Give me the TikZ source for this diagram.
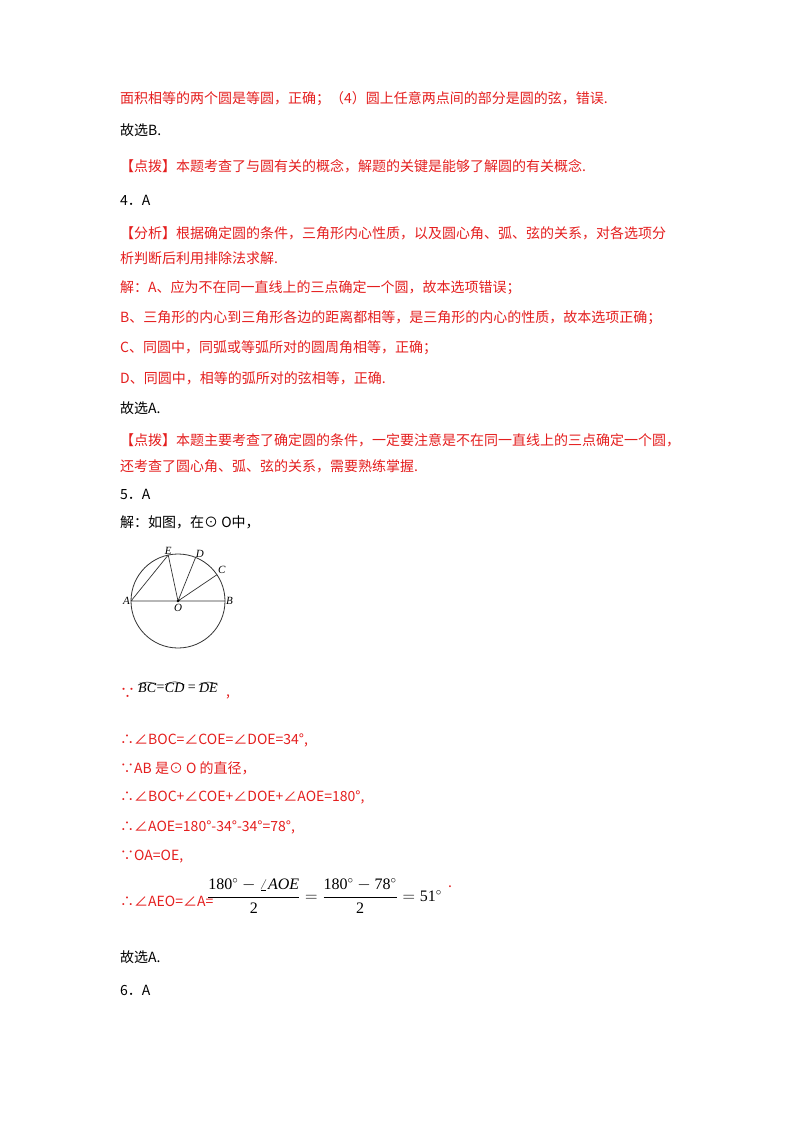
\documentclass[tikz,border=0pt]{standalone}
\usepackage{amsmath}
\usepackage{fontspec}
\usetikzlibrary{calc}
\setmainfont{Liberation Serif}
\newfontfamily\cjk{Noto Sans CJK SC}
\definecolor{rd}{RGB}{228,30,30}
\begin{document}
\begin{tikzpicture}[x=1pt,y=-1pt,
  ln/.style={anchor=west,inner sep=0pt,font=\fontsize{14}{16}\selectfont\cjk},
  rl/.style={ln,text=rd},
  lab/.style={font=\fontsize{11}{12}\selectfont\itshape,inner sep=1pt},
  mt/.style={anchor=west,inner sep=0pt,font=\fontsize{16}{18}\selectfont},
  arcw/.style={line width=0.5pt}]
\useasboundingbox (0,0) rectangle (800,1132);
\node[rl] (l1) at (120,99) {面积相等的两个圆是等圆，正确；（4）圆上任意两点间的部分是圆的弦，错误.};
\node[ln] (l2) at (120,130) {故选B.};
\node[rl] (l3) at (120,166) {【点拨】本题考查了与圆有关的概念，解题的关键是能够了解圆的有关概念.};
\node[ln] (l4) at (120,200) {4．A};
\node[rl] (l5) at (120,233) {【分析】根据确定圆的条件，三角形内心性质，以及圆心角、弧、弦的关系，对各选项分};
\node[rl] (l6) at (120,258) {析判断后利用排除法求解.};
\node[rl] (l7) at (120,288) {解：A、应为不在同一直线上的三点确定一个圆，故本选项错误；};
\node[rl] (l8) at (120,318) {B、三角形的内心到三角形各边的距离都相等，是三角形的内心的性质，故本选项正确；};
\node[rl] (l9) at (120,348) {C、同圆中，同弧或等弧所对的圆周角相等，正确；};
\node[rl] (l10) at (120,378) {D、同圆中，相等的弧所对的弦相等，正确.};
\node[ln] (l11) at (120,408) {故选A.};
\node[rl] (l12) at (120,440) {【点拨】本题主要考查了确定圆的条件，一定要注意是不在同一直线上的三点确定一个圆，};
\node[rl] (l13) at (120,466) {还考查了圆心角、弧、弦的关系，需要熟练掌握.};
\node[ln] (l14) at (120,494) {5．A};
\node[ln] (l15) at (120,522) {解：如图，在⊙ O中，};
% circle diagram
\coordinate (O) at (178,601);
\draw[line width=0.8pt,black!80] (O) circle (47);
\coordinate (A) at ($(O)+(180:47)$);
\coordinate (B) at ($(O)+(0:47)$);
\coordinate (C) at ($(O)+(-34:47)$);
\coordinate (D) at ($(O)+(-68:47)$);
\coordinate (E) at ($(O)+(-102:47)$);
\draw[line width=0.7pt,black!80] (A) -- (B) (O) -- (C) (O) -- (D) (O) -- (E) (A) -- (E);
\fill (O) circle (1.3);
\node[lab,anchor=east] (lA) at (A) {A};
\node[lab,anchor=west] (lB) at (B) {B};
\node[lab,anchor=south west] (lC) at (C) {C};
\node[lab,anchor=south west,inner sep=0pt] (lD) at (D) {D};
\node[lab,anchor=south,inner sep=0pt] (lE) at (E) {E};
\node[lab,anchor=north] (lO) at ($(O)+(0,2)$) {O};
% arcs formula
\node[ln,text=rd] (th1) at (120,693) {\fontsize{15}{15}\selectfont ∵};
\node[mt,font=\fontsize{14}{16}\selectfont] (bc) at (138,688) {\textit{BC}};
\node[mt,font=\fontsize{14}{16}\selectfont] (eq1) at (bc.east) {=};
\node[mt,font=\fontsize{14}{16}\selectfont] (cd) at (eq1.east) {\textit{CD}};
\node[mt,font=\fontsize{14}{16}\selectfont] (eq2) at ([xshift=3pt]cd.east) {=};
\node[mt,font=\fontsize{14}{16}\selectfont] (de) at ([xshift=3pt]eq2.east) {\textit{DE}};
\foreach \n in {bc,cd,de}
  \draw[arcw] ([yshift=-2pt]\n.north west) to[bend left=35] ([yshift=-2pt]\n.north east);
\node[rl] (cm) at (226,697) {,};
\node[rl] (l16) at (120,740) {∴∠BOC=∠COE=∠DOE=34°,};
\node[rl] (l17) at (120,768) {∵AB 是⊙ O 的直径，};
\node[rl] (l18) at (120,797) {∴∠BOC+∠COE+∠DOE+∠AOE=180°,};
\node[rl] (l19) at (120,827) {∴∠AOE=180°-34°-34°=78°,};
\node[rl] (l20) at (120,857) {∵OA=OE,};
\node[rl] (l21) at (120,901) {∴∠AEO=∠A=};
\node[mt] (frac) at (207,896)
  {$\dfrac{\text{180}^{\circ}-\angle \textit{AOE}}{\text{2}}=\dfrac{\text{180}^{\circ}-\text{78}^{\circ}}{\text{2}}=\text{51}^{\circ}$};
\node[rl] (dot) at ([xshift=6pt,yshift=9pt]frac.east) {.};
\node[ln] (l22) at (120,957) {故选A.};
\node[ln] (l23) at (120,990) {6．A};
\end{tikzpicture}
\end{document}
